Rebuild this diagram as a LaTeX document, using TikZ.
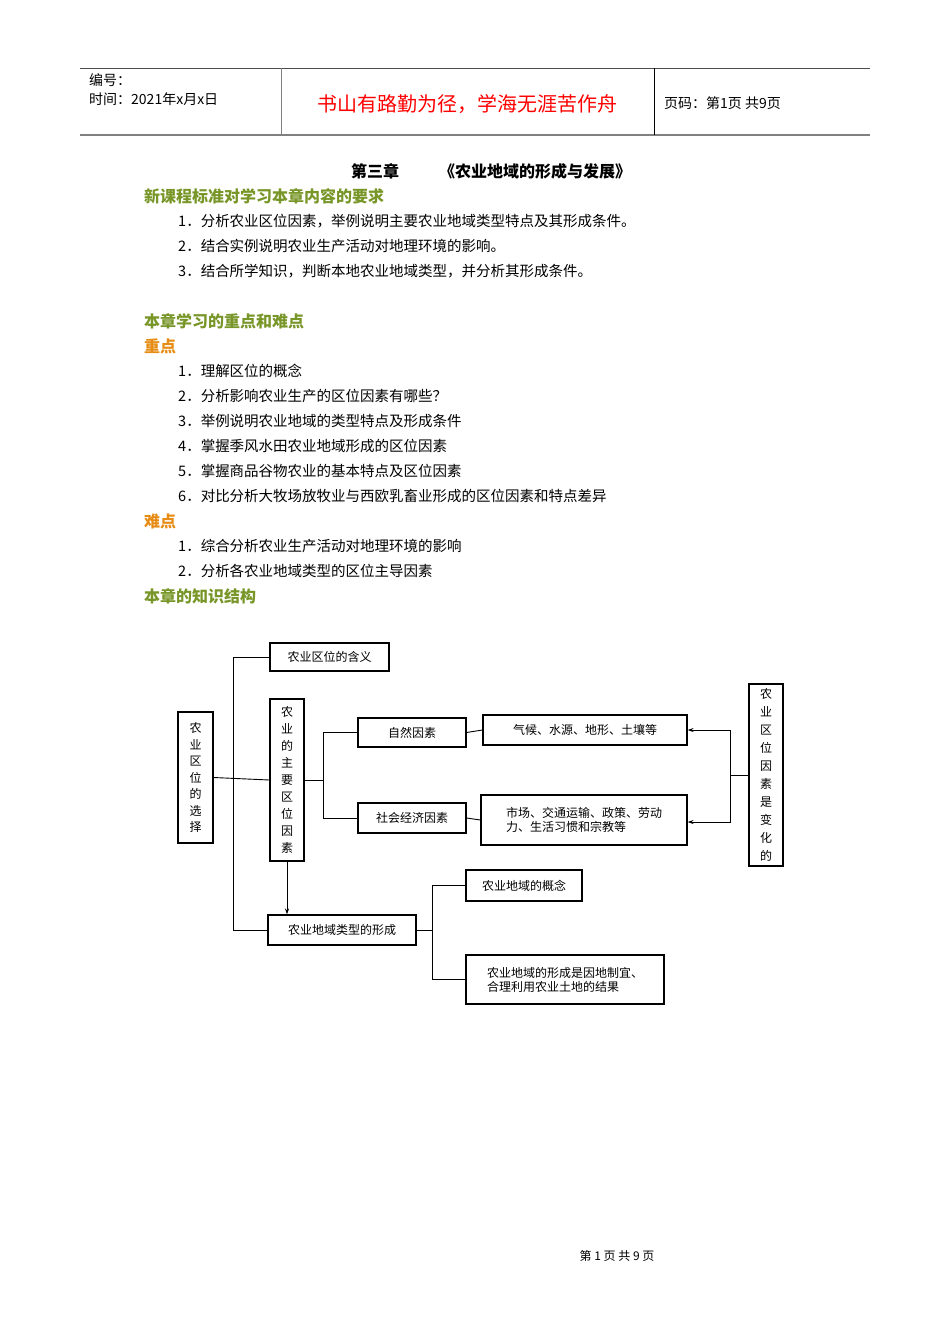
\documentclass[tikz,border=0pt]{standalone}
\usepackage{fontspec}
\setmainfont{Noto Sans CJK SC}
\newfontfamily\cjkb{Noto Sans CJK SC}[BoldFont={* Bold}]
\usetikzlibrary{arrows.meta}
\definecolor{olivegr}{RGB}{120,150,40}
\definecolor{orng}{RGB}{230,140,20}
\begin{document}
\begin{tikzpicture}[x=1pt,y=-1pt,
  bx/.style={draw,line width=1.1pt,inner sep=0pt,font=\fontsize{12}{14}\selectfont},
  ln/.style={line width=0.9pt},
  ar/.style={ln,-{Stealth[length=6pt,width=4pt]}},
  txt/.style={anchor=west,inner sep=0pt,font=\fontsize{14.5}{16}\selectfont},
  hd/.style={anchor=west,inner sep=0pt,font=\fontsize{16}{18}\selectfont\bfseries}]
\useasboundingbox (0,0) rectangle (950,1344);
% header
\draw[line width=0.8pt,black!70] (80,68) -- (870,68);
\draw[line width=2pt,gray] (80,135) -- (870,135);
\draw[line width=0.8pt,gray] (281,68) -- (281,135);
\draw[line width=0.8pt] (654,68) -- (654,135);
\node[txt,font=\fontsize{14}{16}\selectfont] (h1) at (89,80) {编号：};
\node[txt,font=\fontsize{14}{16}\selectfont] (h2) at (89,99) {时间：2021年x月x日};
\node[inner sep=0pt,text=red,font=\fontsize{20}{22}\selectfont] (h3) at (467,104) {书山有路勤为径，学海无涯苦作舟};
\node[txt,font=\fontsize{14}{16}\selectfont] (h4) at (664,103) {页码：第1页 共9页};
% body text
\node[inner sep=0pt,font=\fontsize{16}{18}\selectfont\bfseries] (title) at (491,171) {第三章\hspace{2.5em}《农业地域的形成与发展》};
\node[hd,text=olivegr] (t1) at (144,196) {新课程标准对学习本章内容的要求};
\node[txt] (a1) at (178,221) {1．分析农业区位因素，举例说明主要农业地域类型特点及其形成条件。};
\node[txt] (a2) at (178,246) {2．结合实例说明农业生产活动对地理环境的影响。};
\node[txt] (a3) at (178,271) {3．结合所学知识，判断本地农业地域类型，并分析其形成条件。};
\node[hd,text=olivegr] (t2) at (144,321) {本章学习的重点和难点};
\node[hd,text=orng] (t3) at (144,346) {重点};
\node[txt] (b1) at (178,371) {1．理解区位的概念};
\node[txt] (b2) at (178,396) {2．分析影响农业生产的区位因素有哪些？};
\node[txt] (b3) at (178,421) {3．举例说明农业地域的类型特点及形成条件};
\node[txt] (b4) at (178,446) {4．掌握季风水田农业地域形成的区位因素};
\node[txt] (b5) at (178,471) {5．掌握商品谷物农业的基本特点及区位因素};
\node[txt] (b6) at (178,496) {6．对比分析大牧场放牧业与西欧乳畜业形成的区位因素和特点差异};
\node[hd,text=orng] (t4) at (144,521) {难点};
\node[txt] (c1) at (178,546) {1．综合分析农业生产活动对地理环境的影响};
\node[txt] (c2) at (178,571) {2．分析各农业地域类型的区位主导因素};
\node[hd,text=olivegr] (t5) at (144,596) {本章的知识结构};
% diagram
\node[bx,minimum width=35pt,minimum height=131pt,align=center,font=\fontsize{12}{16.5}\selectfont] (sel) at (195.5,777.5) {农\\业\\区\\位\\的\\选\\择};
\node[bx,minimum width=119pt,minimum height=28pt] (han) at (329.5,657) {农业区位的含义};
\node[bx,minimum width=34pt,minimum height=162pt,align=center,font=\fontsize{12}{17}\selectfont] (main) at (287,780) {农\\业\\的\\主\\要\\区\\位\\因\\素};
\node[bx,minimum width=108pt,minimum height=29pt] (zr) at (412,732.5) {自然因素};
\node[bx,minimum width=108pt,minimum height=30pt] (sh) at (412,818) {社会经济因素};
\node[bx,minimum width=204pt,minimum height=30pt] (qh) at (585,730) {气候、水源、地形、土壤等};
\node[bx,minimum width=206pt,minimum height=50pt,align=left] (sc) at (584,820) {市场、交通运输、政策、劳动\\力、生活习惯和宗教等};
\node[bx,minimum width=34pt,minimum height=182pt,align=center,font=\fontsize{12}{18}\selectfont] (bh) at (766,775) {农\\业\\区\\位\\因\\素\\是\\变\\化\\的};
\node[bx,minimum width=148pt,minimum height=30pt] (lx) at (342,930) {农业地域类型的形成};
\node[bx,minimum width=116pt,minimum height=31pt] (gn) at (524,885.5) {农业地域的概念};
\node[bx,minimum width=198pt,minimum height=49pt,align=left] (jg) at (565,979.5) {农业地域的形成是因地制宜、\\合理利用农业土地的结果};
% connectors
\draw[ln] (sel.east) -- (main.west);
\draw[ln] (han.west) -- (233,657) -- (233,930) -- (lx.west);
\draw[ln] (zr.west) -- (323,732.5) -- (323,818) -- (sh.west);
\draw[ln] (main.east) -- (323,780);
\draw[ln] (zr.east) -- (qh.west);
\draw[ln] (sh.east) -- (sc.west);
\draw[ar] (bh.west) -- (730,775) -- (730,730) -- (qh.east);
\draw[ar] (730,775) -- (730,822) -- (sc.east |- 0,822);
\draw[ar] (main.south) -- (lx.north -| main.south);
\draw[ln] (gn.west) -- (432,885.5) -- (432,979.5) -- (jg.west);
\draw[ln] (lx.east) -- (432,930);
% footer
\node[inner sep=0pt,font=\fontsize{12}{14}\selectfont] (ft) at (617,1256) {第 1 页 共 9 页};
\end{tikzpicture}
\end{document}
